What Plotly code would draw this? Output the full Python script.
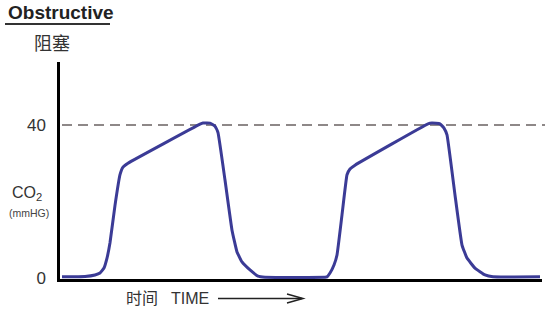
import plotly.graph_objects as go

# Capnogram waveform (time in arbitrary units, CO2 in mmHg)
time = [2, 25, 35, 40, 44, 47, 50, 55, 60, 63, 68, 140, 143, 150, 155, 158, 165, 172, 177, 182, 190, 198, 205,
        265, 267, 270, 274, 277, 282, 287, 290, 295, 368, 372, 380, 384, 387, 395, 402, 407, 415, 425, 433, 480]
co2 = [0.3, 0.4, 0.8, 1.3, 2.6, 5.2, 9.2, 19, 27, 29, 30, 40.2, 40.5, 40.5, 39.7, 38, 25.6, 12.5, 6.8, 4.2, 2.1, 0.5, 0.2,
       0.2, 0.3, 1.3, 3.4, 6, 16.5, 27, 28.5, 29.5, 40.3, 40.5, 40.3, 39.2, 37.4, 21.7, 8.6, 5.2, 2.6, 0.8, 0.3, 0.3]
ref_level = 40
y_ticks = [0, 40]
y_tick_text = ["0", "40"]

W, H = 551, 309
L, R, T, B = 60, 542, 62, 279

def px(x):
    return (x - L) / (R - L)

def py(y):
    return (B - y) / (B - T)

fig = go.Figure()
fig.add_trace(go.Scatter(x=time, y=co2, mode="lines",
                         line=dict(color="#3b3b96", width=3, shape="spline", smoothing=0.3), hoverinfo="skip"))

fig.add_shape(type="line", xref="paper", yref="y", x0=px(62), x1=px(545), y0=ref_level, y1=ref_level,
              line=dict(color="#8e8888", width=2, dash="10px,6px"), layer="below")

# title underline
fig.add_shape(type="line", xref="paper", yref="paper", x0=px(5), x1=px(110), y0=py(24), y1=py(24),
              line=dict(color="#333333", width=2))
# time arrow
fig.add_shape(type="line", xref="paper", yref="paper", x0=px(218), x1=px(302), y0=py(298.5), y1=py(298.5),
              line=dict(color="#222222", width=1.5))
fig.add_shape(type="path", xref="paper", yref="paper",
              path=f"M {px(287)} {py(294)} L {px(303)} {py(298.5)} L {px(287)} {py(303)}",
              line=dict(color="#222222", width=1.5))

ann = [
    dict(text="<b>Obstructive</b>", x=px(6), y=py(12), xanchor="left", font=dict(size=19, family="Liberation Sans", color="#222")),
    dict(text="阻塞", x=px(52), y=py(42), xanchor="center", font=dict(size=18, family="Noto Sans CJK SC", color="#333")),
    dict(text="CO<sub>2</sub>", x=px(27), y=py(193), xanchor="center", font=dict(size=16, family="Liberation Sans", color="#333")),
    dict(text="(mmHG)", x=px(29), y=py(213), xanchor="center", font=dict(size=10.5, family="Liberation Sans", color="#444")),
    dict(text="时间", x=px(142), y=py(297), xanchor="center", font=dict(size=16, family="Noto Sans CJK SC", color="#333")),
    dict(text="TIME", x=px(190), y=py(298), xanchor="center", font=dict(size=16, family="Liberation Sans", color="#333")),
]
for a in ann:
    a.update(xref="paper", yref="paper", showarrow=False, yanchor="middle")
fig.update_layout(annotations=ann)

fig.update_layout(
    width=W, height=H, margin=dict(l=L, r=W - R, t=T, b=H - B),
    paper_bgcolor="white", plot_bgcolor="white", showlegend=False,
    xaxis=dict(range=[0, 482], showline=True, linecolor="black", linewidth=2.5,
               showticklabels=False, ticks="", showgrid=False, zeroline=False, fixedrange=True),
    yaxis=dict(range=[-0.26, 56.47], showline=True, linecolor="black", linewidth=2.5,
               tickvals=y_ticks, ticktext=y_tick_text, ticks="", ticklabelstandoff=8,
               tickfont=dict(size=17, family="Liberation Sans", color="#333"),
               showgrid=False, zeroline=False, fixedrange=True),
)

fig.write_html("out.html", config={"displayModeBar": False})
